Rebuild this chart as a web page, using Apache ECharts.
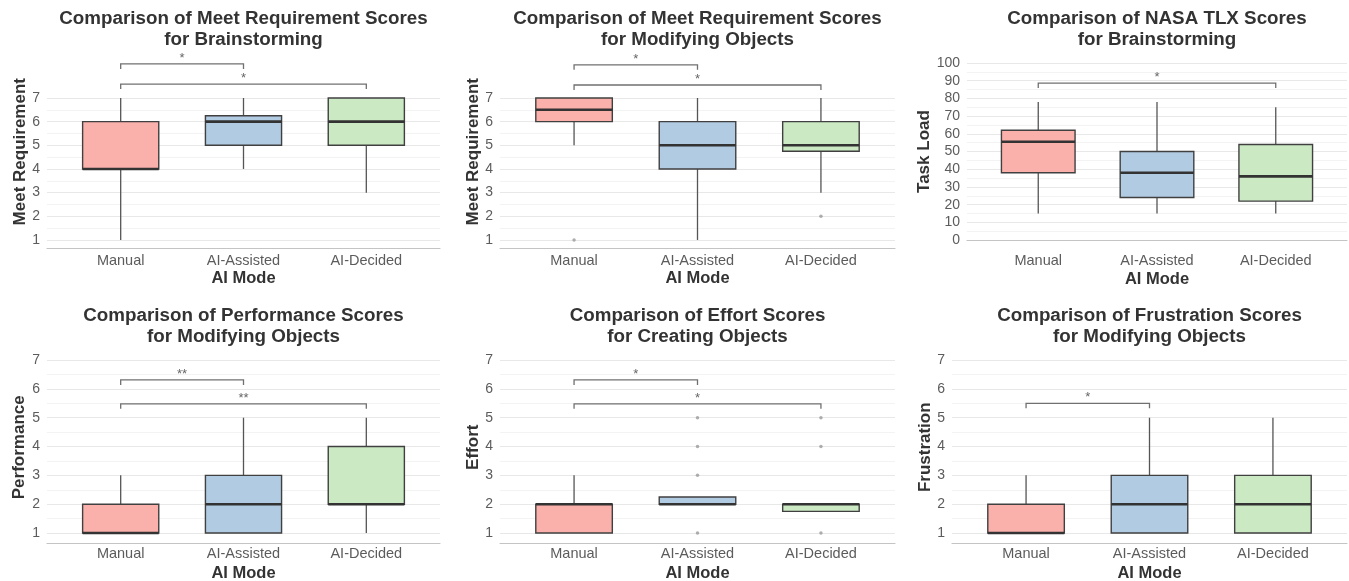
<!DOCTYPE html>
<html>
<head>
<meta charset="utf-8">
<script src="https://cdn.jsdelivr.net/npm/echarts@6/dist/echarts.min.js"></script>
<style>
  html, body { margin: 0; padding: 0; background: #fff; }
  #main { width: 1349px; height: 581px; }
</style>
</head>
<body>
<div id="main"></div>
<script>
// x categories (placed at 1, 2, 3 on a value axis)
const modes = ['Manual', 'AI-Assisted', 'AI-Decided'];

// boxes: [min, Q1, median, Q3, max] for Manual, AI-Assisted, AI-Decided
const mrBrainBoxes = [[1, 4, 4, 6, 7], [4, 5, 6, 6.25, 7], [3, 5, 6, 7, 7]];
const mrModBoxes = [[5, 6, 6.5, 7, 7], [1, 4, 5, 6, 7], [3, 4.75, 5, 6, 7]];
const tlxBrainBoxes = [[15, 38, 55.5, 62, 78], [15, 24, 38, 50, 78], [15, 22, 36, 54, 75]];
const perfModBoxes = [[1, 1, 1, 2, 3], [1, 1, 2, 3, 5], [1, 2, 2, 4, 5]];
const effortCreateBoxes = [[1, 1, 2, 2, 3], [2, 2, 2, 2.25, 2.25], [1.75, 1.75, 2, 2, 2]];
const frustModBoxes = [[1, 1, 1, 2, 3], [1, 1, 2, 3, 5], [1, 1, 2, 3, 5]];

// outliers: [category position, value]
const mrBrainOutliers = [];
const mrModOutliers = [[1, 1], [3, 2]];
const tlxBrainOutliers = [];
const perfModOutliers = [];
const effortCreateOutliers = [[2, 1], [2, 3], [2, 4], [2, 5], [3, 1], [3, 4], [3, 5]];
const frustModOutliers = [];

// significance brackets: [from category, to category, height, label]
const mrBrainSig = [[1, 2, 8.44, '*'], [1, 3, 7.59, '*']];
const mrModSig = [[1, 2, 8.4, '*'], [1, 3, 7.55, '*']];
const tlxBrainSig = [[1, 3, 88.7, '*']];
const perfModSig = [[1, 2, 6.31, '**'], [1, 3, 5.48, '**']];
const effortCreateSig = [[1, 2, 6.31, '*'], [1, 3, 5.48, '*']];
const frustModSig = [[1, 2, 5.5, '*']];

// y tick labels and grid lines
const likertTicks = [1, 2, 3, 4, 5, 6, 7];
const likertMinor = [1.5, 2.5, 3.5, 4.5, 5.5, 6.5];
const tlxTicks = [0, 10, 20, 30, 40, 50, 60, 70, 80, 90, 100];
const tlxMinor = [5, 15, 25, 35, 45, 55, 65, 75, 85, 95];

const fills = ['#fbb1ab', '#b1cbe2', '#cbeac4'];

const panels = [
  { title: 'Comparison of Meet Requirement Scores\nfor Brainstorming', yName: 'Meet Requirement',
    boxes: mrBrainBoxes, outliers: mrBrainOutliers, sig: mrBrainSig, ticks: likertTicks, minor: likertMinor,
    ymin: 0.66, ymax: 8.8, left: 47, width: 393, top: 55.4, height: 192.6, nameGap: 18, xGap: 22, labelGap: 5, titleTop: 9 },
  { title: 'Comparison of Meet Requirement Scores\nfor Modifying Objects', yName: 'Meet Requirement',
    boxes: mrModBoxes, outliers: mrModOutliers, sig: mrModSig, ticks: likertTicks, minor: likertMinor,
    ymin: 0.66, ymax: 8.8, left: 500, width: 395, top: 55.4, height: 192.6, nameGap: 18, xGap: 22, labelGap: 5, titleTop: 9 },
  { title: 'Comparison of NASA TLX Scores\nfor Brainstorming', yName: 'Task Load',
    boxes: tlxBrainBoxes, outliers: tlxBrainOutliers, sig: tlxBrainSig, ticks: tlxTicks, minor: tlxMinor,
    ymin: -5, ymax: 105, left: 967, width: 380, top: 54.2, height: 194.7, nameGap: 32, xGap: 22, labelGap: 5, titleTop: 9 },
  { title: 'Comparison of Performance Scores\nfor Modifying Objects', yName: 'Performance',
    boxes: perfModBoxes, outliers: perfModOutliers, sig: perfModSig, ticks: likertTicks, minor: likertMinor,
    ymin: 0.65, ymax: 7.3, left: 47, width: 393, top: 351.4, height: 191.7, nameGap: 19, xGap: 22, labelGap: 3, titleTop: 306 },
  { title: 'Comparison of Effort Scores\nfor Creating Objects', yName: 'Effort',
    boxes: effortCreateBoxes, outliers: effortCreateOutliers, sig: effortCreateSig, ticks: likertTicks, minor: likertMinor,
    ymin: 0.65, ymax: 7.3, left: 500, width: 395, top: 351.4, height: 191.7, nameGap: 18, xGap: 22, labelGap: 3, titleTop: 306 },
  { title: 'Comparison of Frustration Scores\nfor Modifying Objects', yName: 'Frustration',
    boxes: frustModBoxes, outliers: frustModOutliers, sig: frustModSig, ticks: likertTicks, minor: likertMinor,
    ymin: 0.65, ymax: 7.3, left: 952, width: 395, top: 351.4, height: 191.7, nameGap: 15, xGap: 22, labelGap: 3, titleTop: 306 }
];

const font = '"Liberation Sans", Arial, sans-serif';

function renderBox (params, api) {
  const x = api.value(0);
  const half = 0.31;
  const pMin = api.coord([x, api.value(1)]);
  const pQ1 = api.coord([x, api.value(2)]);
  const pMed = api.coord([x, api.value(3)]);
  const pQ3 = api.coord([x, api.value(4)]);
  const pMax = api.coord([x, api.value(5)]);
  const left = api.coord([x - half, api.value(3)])[0];
  const right = api.coord([x + half, api.value(3)])[0];
  const whisker = { stroke: '#555', lineWidth: 1.3 };
  return {
    type: 'group',
    children: [
      { type: 'line', shape: { x1: pMin[0], y1: pMin[1], x2: pQ1[0], y2: pQ1[1] }, style: whisker },
      { type: 'line', shape: { x1: pQ3[0], y1: pQ3[1], x2: pMax[0], y2: pMax[1] }, style: whisker },
      { type: 'rect', shape: { x: left, y: pQ3[1], width: right - left, height: pQ1[1] - pQ3[1] },
        style: { fill: fills[params.dataIndex], stroke: '#404040', lineWidth: 1.4 } },
      { type: 'line', shape: { x1: left, y1: pMed[1], x2: right, y2: pMed[1] },
        style: { stroke: '#333', lineWidth: 2.6 } }
    ]
  };
}

function renderSig (params, api) {
  const p1 = api.coord([api.value(0), api.value(2)]);
  const p2 = api.coord([api.value(1), api.value(2)]);
  const tip = 5;
  return {
    type: 'group',
    children: [
      { type: 'polyline', shape: { points: [[p1[0], p1[1] + tip], [p1[0], p1[1]], [p2[0], p2[1]], [p2[0], p2[1] + tip]] },
        style: { stroke: '#707070', lineWidth: 1.3, fill: null } },
      { type: 'text', x: (p1[0] + p2[0]) / 2, y: p1[1] + 1,
        style: { text: api.value(3), fill: '#666', font: '13px ' + font, align: 'center', verticalAlign: 'bottom' } }
    ]
  };
}

const option = {
  animation: false,
  title: [],
  grid: [],
  xAxis: [],
  yAxis: [],
  series: []
};

panels.forEach(function (p, i) {
  option.title.push({
    text: p.title,
    left: p.left + p.width / 2,
    top: p.titleTop,
    textAlign: 'center',
    padding: 0,
    textStyle: { fontFamily: font, fontSize: 18.8, fontWeight: 'bold', color: '#333', lineHeight: 20.5 }
  });
  option.grid.push({ left: p.left, top: p.top, width: p.width, height: p.height, outerBoundsMode: 'none' });
  option.xAxis.push({
    type: 'value', gridIndex: i, min: 0.4, max: 3.6,
    name: 'AI Mode', nameLocation: 'middle', nameGap: p.xGap,
    nameTextStyle: { fontFamily: font, fontSize: 16.5, fontWeight: 'bold', color: '#333' },
    axisLine: { show: true, lineStyle: { color: '#c4c4c4', width: 1.2 } },
    axisTick: { show: false, customValues: [1, 2, 3] },
    axisLabel: { customValues: [1, 2, 3], margin: p.labelGap, fontFamily: font, fontSize: 14.5, color: '#5c5c5c',
      formatter: function (v) { return modes[Math.round(v) - 1]; } },
    splitLine: { show: false }
  });
  const gridVals = p.ticks.concat(p.minor).sort(function (a, b) { return a - b; });
  option.yAxis.push({
    type: 'value', gridIndex: i, min: p.ymin, max: p.ymax,
    name: p.yName, nameLocation: 'middle', nameGap: p.nameGap,
    nameTextStyle: { fontFamily: font, fontSize: 17, fontWeight: 'bold', color: '#333' },
    axisLine: { show: false },
    axisTick: { show: false, customValues: gridVals },
    axisLabel: { customValues: p.ticks, margin: 7, fontFamily: font, fontSize: 14, color: '#5c5c5c' },
    splitLine: { show: true, lineStyle: { color: ['#e8e8e8', '#f3f3f3'], width: 1 } }
  });
  option.series.push({
    type: 'custom', xAxisIndex: i, yAxisIndex: i,
    data: p.boxes.map(function (b, k) { return [k + 1].concat(b); }),
    encode: { x: 0, y: [1, 2, 3, 4, 5] },
    renderItem: renderBox, silent: true
  });
  option.series.push({
    type: 'scatter', xAxisIndex: i, yAxisIndex: i,
    data: p.outliers, symbolSize: 3.5, itemStyle: { color: '#9a9a9a' }, silent: true
  });
  option.series.push({
    type: 'custom', xAxisIndex: i, yAxisIndex: i,
    data: p.sig, encode: { x: [0, 1], y: 2 },
    renderItem: renderSig, silent: true, clip: false
  });
});

const chart = echarts.init(document.getElementById('main'), null, { renderer: 'canvas' });
chart.setOption(option);
</script>
</body>
</html>
